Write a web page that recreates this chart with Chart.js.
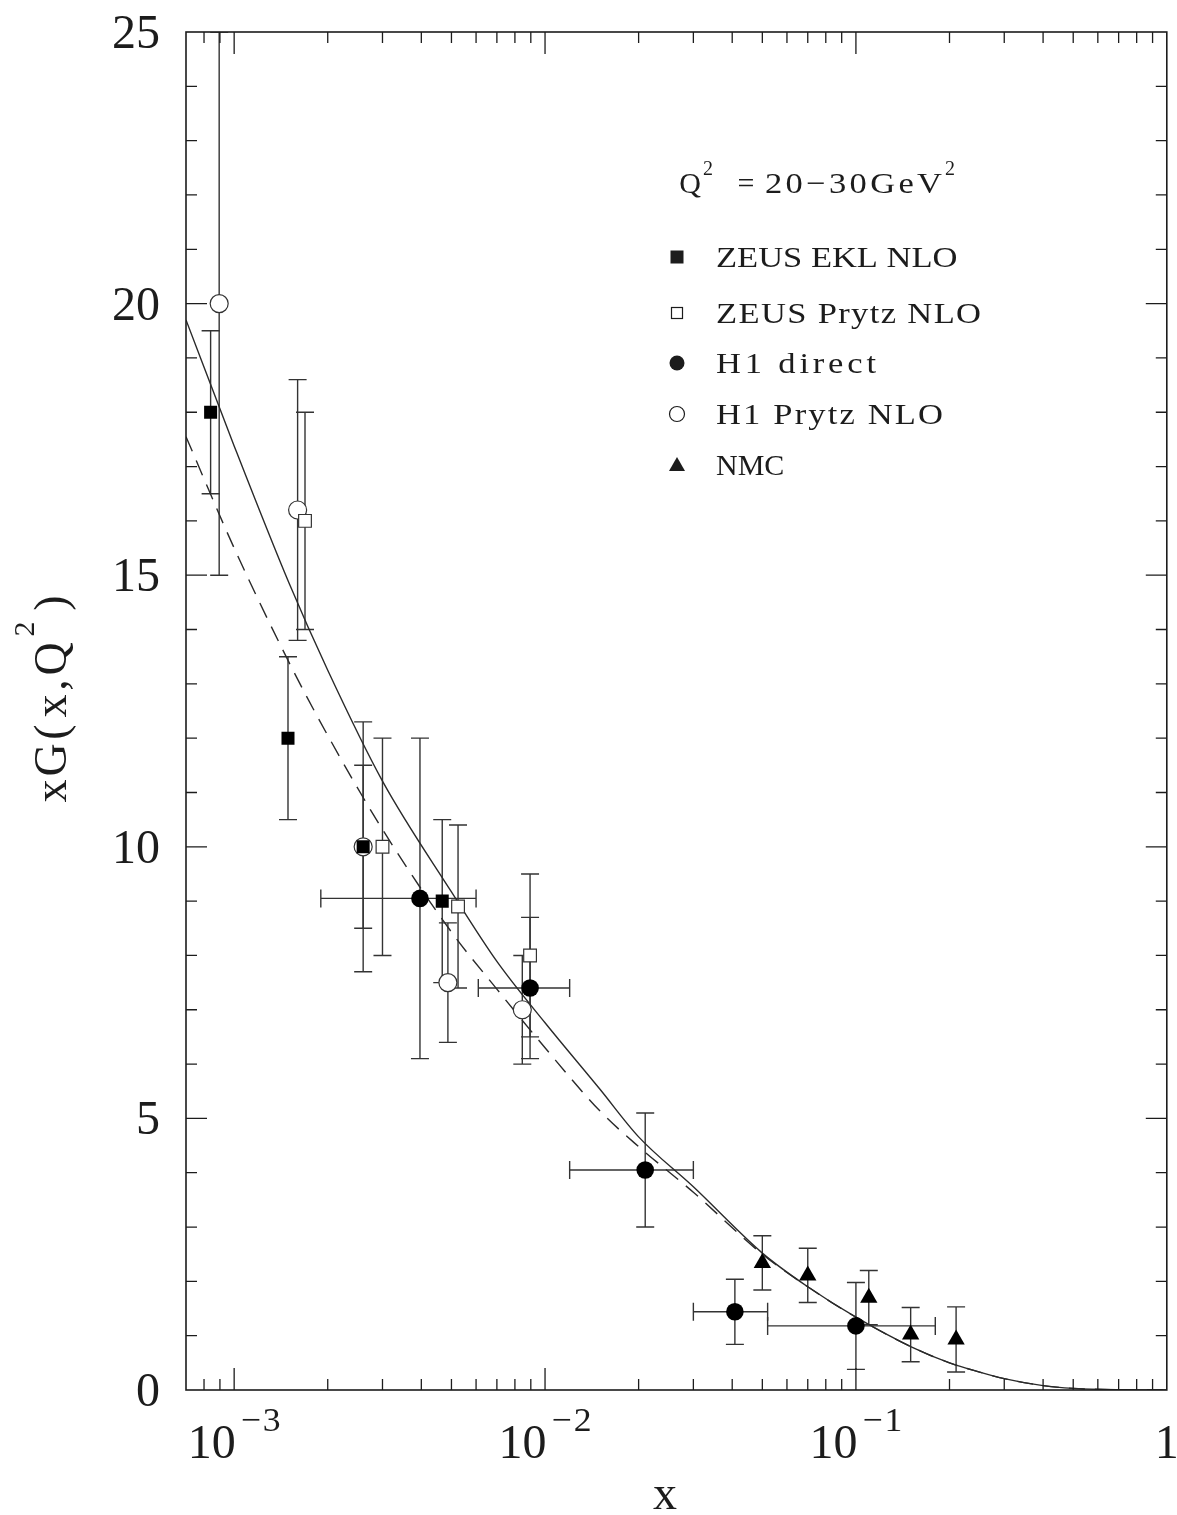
<!DOCTYPE html>
<html>
<head>
<meta charset="utf-8">
<script src="https://cdn.jsdelivr.net/npm/chart.js@4.4.0/dist/chart.umd.min.js"></script>
<style>
  html, body { margin: 0; padding: 0; background: #fff; }
</style>
</head>
<body>
<canvas id="grafico" width="1177" height="1515"></canvas>
<script>
// ---- data ----
const zeusEklX = [8.4e-4, 1.49e-3, 2.6e-3, 4.67e-3];
const zeusEklY = [18, 12, 10, 9];
const zeusEklErr = [1.5, 1.5, 1.5, 1.5];

const zeusPrytzX = [1.69e-3, 3.0e-3, 5.25e-3, 8.95e-3];
const zeusPrytzY = [16, 10, 8.9, 8];
const zeusPrytzErr = [2, 2, 1.5, 1.5];

const h1DirectX = [3.96e-3, 8.95e-3, 2.1e-2, 4.08e-2, 0.1];
const h1DirectY = [9.05, 7.4, 4.05, 1.44, 1.18];
const h1DirectErr = [2.95, 1.3, 1.05, 0.6, 0.8];
const h1DirectXLo = [1.9e-3, 6.1e-3, 1.2e-2, 3.0e-2, 5.2e-2];
const h1DirectXHi = [6.0e-3, 1.2e-2, 3.0e-2, 5.2e-2, 0.18];

const h1PrytzX = [8.95e-4, 1.6e-3, 2.6e-3, 4.87e-3, 8.45e-3];
const h1PrytzY = [20, 16.2, 10, 7.5, 7.0];
const h1PrytzErr = [5, 2.4, 2.3, 1.1, 1.0];

const nmcX = [0.05, 0.07, 0.11, 0.15, 0.21];
const nmcY = [2.34, 2.11, 1.7, 1.02, 0.93];
const nmcErr = [0.5, 0.5, 0.5, 0.5, 0.6];

const curveX = [7e-4, 1e-3, 1.5e-3, 2e-3, 3e-3, 5e-3, 7e-3, 1e-2, 1.5e-2, 2e-2, 3e-2, 5e-2, 7e-2, 0.1, 0.15, 0.2, 0.25, 0.3, 0.4, 0.5, 0.7, 1];
const solidY = [19.7, 17.38, 14.86, 13.25, 11.21, 9.17, 7.89, 6.76, 5.54, 4.66, 3.74, 2.52, 1.9, 1.34, 0.8, 0.5, 0.33, 0.21, 0.08, 0.03, 0.005, 0];
const dashedY = [17.55, 15.5, 13.4, 12.05, 10.32, 8.43, 7.38, 6.3, 5.14, 4.48, 3.64, 2.5, 1.9, 1.34, 0.8, 0.5, 0.33, 0.21, 0.08, 0.03, 0.005, 0];

const xDecades = [1e-3, 1e-2, 1e-1, 1];
const xDecadeLabels = [["10", "−3"], ["10", "−2"], ["10", "−1"], ["1", ""]];
const yTicks = [0, 5, 10, 15, 20, 25];

const legendNames = ["ZEUS EKL NLO", "ZEUS Prytz NLO", "H1 direct", "H1 Prytz NLO", "NMC"];

const ink = "#1c1c1c";
const serif = "'Liberation Serif', 'DejaVu Serif', serif";

function pontos(xs, ys) {
  return xs.map((x, i) => ({ x: x, y: ys[i] }));
}

// slightly widened glyphs, spread out to a given total width (old plotter lettering)
function fitText(ctx, txt, x, y, width, stretch) {
  const chars = [...txt];
  const ws = chars.map(c => ctx.measureText(c).width * stretch);
  const nat = ws.reduce((s, w) => s + w, 0);
  let gap = chars.length > 1 ? (width - nat) / (chars.length - 1) : 0;
  if (gap < 0) gap = 0;
  const oldAlign = ctx.textAlign;
  ctx.textAlign = "left";
  let cx = x;
  chars.forEach((c, i) => {
    ctx.save();
    ctx.translate(cx, y);
    ctx.scale(stretch, 1);
    ctx.fillText(c, 0, 0);
    ctx.restore();
    cx += ws[i] + gap;
  });
  ctx.textAlign = oldAlign;
}

const errorBars = {
  id: "errorBars",
  beforeDatasetsDraw(chart) {
    const ctx = chart.ctx;
    const xs = chart.scales.x, ys = chart.scales.y;
    const a = chart.chartArea;
    ctx.save();
    ctx.beginPath();
    ctx.rect(a.left, a.top, a.right - a.left, a.bottom - a.top);
    ctx.clip();
    ctx.strokeStyle = "#333";
    ctx.lineWidth = 1.4;
    chart.data.datasets.forEach(ds => {
      if (!ds.errY) return;
      ds.data.forEach((p, i) => {
        const px = xs.getPixelForValue(p.x);
        const top = ys.getPixelForValue(p.y + ds.errY[i]);
        const bot = ys.getPixelForValue(p.y - ds.errY[i]);
        ctx.beginPath();
        ctx.moveTo(px, top); ctx.lineTo(px, bot);
        ctx.moveTo(px - 9, top); ctx.lineTo(px + 9, top);
        ctx.moveTo(px - 9, bot); ctx.lineTo(px + 9, bot);
        ctx.stroke();
        if (ds.errXLo) {
          const py = ys.getPixelForValue(p.y);
          const l = xs.getPixelForValue(ds.errXLo[i]);
          const r = xs.getPixelForValue(ds.errXHi[i]);
          ctx.beginPath();
          ctx.moveTo(l, py); ctx.lineTo(r, py);
          ctx.moveTo(l, py - 9); ctx.lineTo(l, py + 9);
          ctx.moveTo(r, py - 9); ctx.lineTo(r, py + 9);
          ctx.stroke();
        }
      });
    });
    ctx.restore();
  }
};

const frameAndText = {
  id: "frameAndText",
  afterDraw(chart) {
    const ctx = chart.ctx;
    const xs = chart.scales.x, ys = chart.scales.y;
    const a = chart.chartArea;
    ctx.save();
    ctx.strokeStyle = ink;
    ctx.fillStyle = ink;

    // frame
    ctx.lineWidth = 1.6;
    ctx.strokeRect(a.left, a.top, a.right - a.left, a.bottom - a.top);

    // y ticks, both sides
    ctx.lineWidth = 1.3;
    ctx.beginPath();
    for (let v = 1; v < 25; v++) {
      const py = ys.getPixelForValue(v);
      const len = v % 5 === 0 ? 21 : 11;
      ctx.moveTo(a.left, py); ctx.lineTo(a.left + len, py);
      ctx.moveTo(a.right, py); ctx.lineTo(a.right - len, py);
    }
    // x ticks, bottom and top
    for (let e = -4; e <= 0; e++) {
      for (let m = 1; m <= 9; m++) {
        const v = m * Math.pow(10, e);
        if (v <= 7.5e-4 || v >= 1) continue;
        const px = xs.getPixelForValue(v);
        const len = m === 1 ? 22 : 11;
        ctx.moveTo(px, a.bottom); ctx.lineTo(px, a.bottom - len);
        ctx.moveTo(px, a.top); ctx.lineTo(px, a.top + len);
      }
    }
    ctx.stroke();

    // y tick labels
    ctx.font = "48px " + serif;
    ctx.textAlign = "right";
    ctx.textBaseline = "alphabetic";
    yTicks.forEach(v => {
      ctx.fillText(String(v), 160, ys.getPixelForValue(v) + 16);
    });

    // x tick labels with raised exponent
    ctx.textAlign = "left";
    xDecades.forEach((v, i) => {
      const px = xs.getPixelForValue(v);
      const [base, sup] = xDecadeLabels[i];
      ctx.font = "48px " + serif;
      const wb = ctx.measureText(base).width;
      const ws = sup ? 40 : 0;
      const total = wb + (sup ? 5 + ws : 0);
      const x0 = px - total / 2;
      ctx.fillText(base, x0, 1458);
      if (sup) {
        ctx.font = "34px " + serif;
        fitText(ctx, sup, x0 + wb + 5, 1431, ws, 1.05);
      }
    });

    // axis titles
    ctx.font = "48px " + serif;
    ctx.textAlign = "center";
    ctx.fillText("x", 665, 1509);

    ctx.save();
    ctx.translate(66, 803);
    ctx.rotate(-Math.PI / 2);
    ctx.textAlign = "center";
    ctx.font = "46px " + serif;
    const yTitle = ["x", "G", "(", "x", ",", "Q"];
    const yTitlePos = [12, 43, 71, 97, 118, 144];
    yTitle.forEach((c, i) => ctx.fillText(c, yTitlePos[i], 0));
    ctx.fillText(")", 200, 0);
    ctx.font = "30px " + serif;
    ctx.fillText("2", 174, -32);
    ctx.restore();

    // legend title
    ctx.textAlign = "center";
    ctx.font = "30px " + serif;
    ctx.fillText("Q", 690, 193);
    ctx.fillText("=", 746, 193);
    fitText(ctx, "20−30GeV", 765, 193, 177, 1.15);
    ctx.textAlign = "center";
    ctx.font = "20px " + serif;
    ctx.fillText("2", 708, 175);
    ctx.fillText("2", 950, 175);

    // legend rows
    const rowY = [257, 313, 363, 414, 465];
    const rowW = [237, 265, 160, 227, 63];
    const mx = 677;
    ctx.font = "30px " + serif;
    legendNames.forEach((name, i) => {
      fitText(ctx, name, 716, rowY[i] + 10, rowW[i], name === "NMC" ? 1 : 1.15);
    });
    ctx.lineWidth = 1.2;
    // filled square
    ctx.fillRect(mx - 6.5, rowY[0] - 6.5, 13, 13);
    // open square
    ctx.strokeRect(mx - 5.5, rowY[1] - 5.5, 11, 11);
    // filled circle
    ctx.beginPath(); ctx.arc(mx, rowY[2], 7.5, 0, Math.PI * 2); ctx.fill();
    // open circle
    ctx.beginPath(); ctx.arc(mx, rowY[3], 7.5, 0, Math.PI * 2); ctx.stroke();
    // triangle
    ctx.beginPath();
    ctx.moveTo(mx, rowY[4] - 8); ctx.lineTo(mx + 8, rowY[4] + 6); ctx.lineTo(mx - 8, rowY[4] + 6);
    ctx.closePath(); ctx.fill();

    ctx.restore();
  }
};

const ctx = document.getElementById("grafico");

new Chart(ctx, {
  type: "scatter",
  data: {
    datasets: [
      {
        label: "curva",
        data: pontos(curveX, solidY),
        showLine: true,
        pointRadius: 0,
        borderColor: "#2a2a2a",
        borderWidth: 1.4,
        cubicInterpolationMode: "monotone",
        order: 10
      },
      {
        label: "curva tracejada",
        data: pontos(curveX, dashedY),
        showLine: true,
        pointRadius: 0,
        borderColor: "#2a2a2a",
        borderWidth: 1.4,
        borderDash: [16, 10],
        cubicInterpolationMode: "monotone",
        order: 9
      },
      {
        label: legendNames[3],
        data: pontos(h1PrytzX, h1PrytzY),
        errY: h1PrytzErr,
        pointStyle: "circle",
        pointRadius: 9,
        pointBackgroundColor: "#fff",
        pointBorderColor: "#333",
        pointBorderWidth: 1.2,
        order: 5
      },
      {
        label: legendNames[1],
        data: pontos(zeusPrytzX, zeusPrytzY),
        errY: zeusPrytzErr,
        pointStyle: "rect",
        pointRadius: 9,
        pointBackgroundColor: "#fff",
        pointBorderColor: "#333",
        pointBorderWidth: 1.2,
        order: 4
      },
      {
        label: legendNames[2],
        data: pontos(h1DirectX, h1DirectY),
        errY: h1DirectErr,
        errXLo: h1DirectXLo,
        errXHi: h1DirectXHi,
        pointStyle: "circle",
        pointRadius: 8.8,
        pointBackgroundColor: "#000",
        pointBorderColor: "#000",
        pointBorderWidth: 0,
        order: 3
      },
      {
        label: legendNames[0],
        data: pontos(zeusEklX, zeusEklY),
        errY: zeusEklErr,
        pointStyle: "rect",
        pointRadius: 9.2,
        pointBackgroundColor: "#000",
        pointBorderColor: "#000",
        pointBorderWidth: 0,
        order: 2
      },
      {
        label: legendNames[4],
        data: pontos(nmcX, nmcY),
        errY: nmcErr,
        pointStyle: "triangle",
        pointRadius: 10,
        pointBackgroundColor: "#000",
        pointBorderColor: "#000",
        pointBorderWidth: 0,
        order: 1
      }
    ]
  },
  options: {
    responsive: false,
    animation: false,
    layout: { padding: { left: 186, right: 9, top: 32, bottom: 125 } },
    plugins: { legend: { display: false }, tooltip: { enabled: false } },
    scales: {
      x: { type: "logarithmic", min: 7e-4, max: 1, display: false },
      y: { type: "linear", min: 0, max: 25, display: false }
    }
  },
  plugins: [errorBars, frameAndText]
});
</script>
</body>
</html>
